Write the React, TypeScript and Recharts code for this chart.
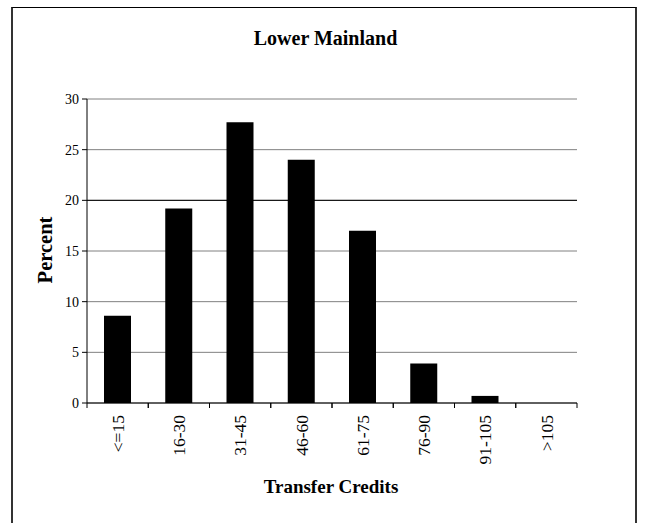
import { BarChart, Bar, CartesianGrid, XAxis, YAxis, ReferenceLine } from "recharts";

const categories = ["<=15", "16-30", "31-45", "46-60", "61-75", "76-90", "91-105", ">105"];
const percents = [8.6, 19.2, 27.7, 24.0, 17.0, 3.9, 0.7, 0];
const yTicks = [0, 5, 10, 15, 20, 25, 30];

const data = categories.map((c, i) => ({ range: c, percent: percents[i] }));

const W = 645;
const H = 523;
const margin = { top: 99, right: 68, bottom: 10, left: 27 };
const Y_AXIS_W = 60;
const band = (W - margin.left - margin.right - Y_AXIS_W) / categories.length;
const serif = '"Liberation Serif", "Times New Roman", serif';

function XTick(props: any) {
  const { x, y, payload } = props;
  return (
    <g>
      <line x1={x - band / 2} x2={x - band / 2} y1={y} y2={y + 5} stroke="#000" />
      <line x1={x + band / 2} x2={x + band / 2} y1={y} y2={y + 5} stroke="#000" />
      <text
        x={x}
        y={y + 12}
        transform={`rotate(-90 ${x} ${y + 12})`}
        textAnchor="end"
        dy="0.35em"
        style={{ fontSize: 17.5, fontFamily: serif }}
        fill="#000"
      >
        {payload.value}
      </text>
    </g>
  );
}

export default function App() {
  return (
    <div style={{ position: "absolute", left: 0, top: 0, width: W, height: H, overflow: "hidden", background: "#fff", fontFamily: serif }}>
      <div
        style={{
          position: "absolute",
          left: 11,
          top: 7,
          width: 622,
          height: 516,
          borderLeft: "2px solid #333",
          borderTop: "1px solid #000",
          borderRight: "2px solid #333",
        }}
      />
      <BarChart width={W} height={H} data={data} margin={margin} style={{ position: "absolute", left: 0, top: 0, fontFamily: serif }}>
        <CartesianGrid vertical={false} stroke="#808080" yAxisId="left" />
        <XAxis
          dataKey="range"
          interval={0}
          height={110}
          tickSize={0}
          tickMargin={0}
          tickLine={false}
          axisLine={{ stroke: "#000" }}
          tick={<XTick />}
        />
        <YAxis
          yAxisId="left"
          domain={[0, 30]}
          ticks={yTicks}
          interval={0}
          width={Y_AXIS_W}
          tickSize={5}
          tickMargin={3}
          axisLine={{ stroke: "#000" }}
          tickLine={{ stroke: "#000" }}
          tick={{ fontSize: 14, fill: "#000", style: { fontFamily: serif } }}
        />
        <YAxis
          yAxisId="right"
          orientation="right"
          domain={[0, 30]}
          width={0}
          tick={false}
          tickLine={false}
          axisLine={{ stroke: "#808080" }}
        />
        <ReferenceLine yAxisId="left" y={20} stroke="#000" />
        <Bar yAxisId="left" dataKey="percent" fill="#000" barSize={27} isAnimationActive={false} />
      </BarChart>
      <div
        style={{
          position: "absolute",
          left: 325.5,
          top: 38,
          transform: "translate(-50%, -50%)",
          fontWeight: "bold",
          fontSize: 20,
          whiteSpace: "nowrap",
        }}
      >
        Lower Mainland
      </div>
      <div
        style={{
          position: "absolute",
          left: 44.5,
          top: 250,
          transform: "translate(-50%, -50%) rotate(-90deg)",
          fontWeight: "bold",
          fontSize: 20.5,
          whiteSpace: "nowrap",
        }}
      >
        Percent
      </div>
      <div
        style={{
          position: "absolute",
          left: 331,
          top: 487,
          transform: "translate(-50%, -50%)",
          fontWeight: "bold",
          fontSize: 19,
          whiteSpace: "nowrap",
        }}
      >
        Transfer Credits
      </div>
    </div>
  );
}
